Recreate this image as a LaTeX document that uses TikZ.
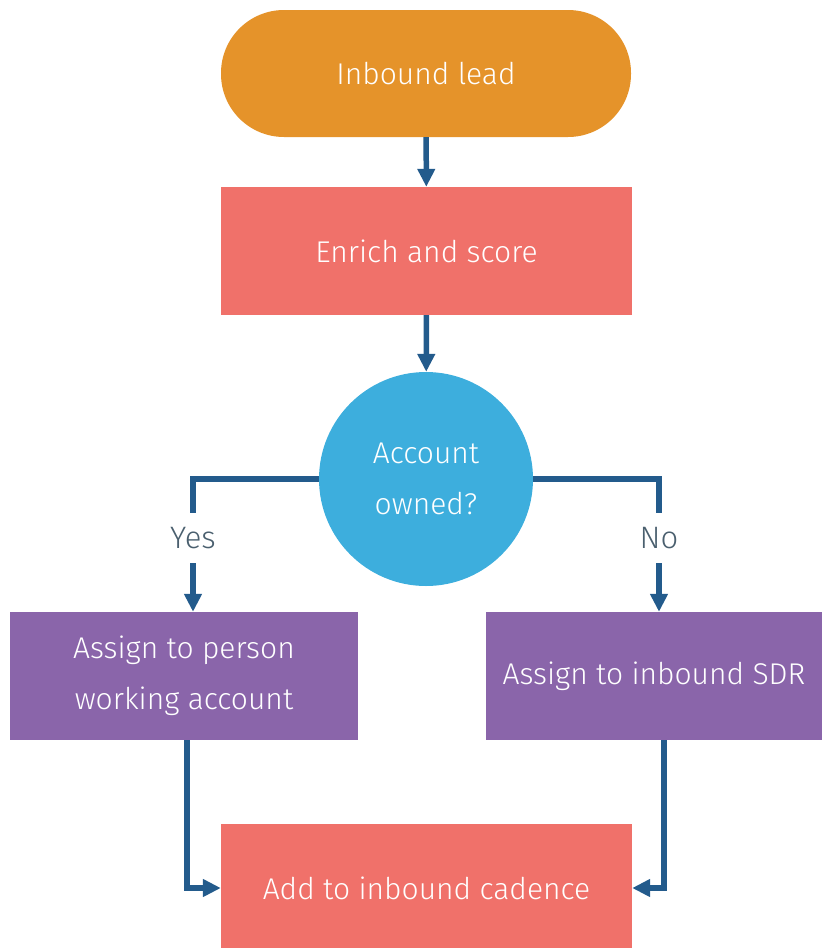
\documentclass[tikz,border=0pt]{standalone}
\usepackage{fontspec}
\setmainfont{Fira Sans Light}[BoldFont=Fira Sans]
\usepackage{tikz}
\usetikzlibrary{arrows.meta}

\definecolor{leadorange}{HTML}{E5932A}
\definecolor{stepred}{HTML}{F0716A}
\definecolor{askblue}{HTML}{3DAEDD}
\definecolor{assignpurple}{HTML}{8A65AA}
\definecolor{flowblue}{HTML}{235B8C}
\definecolor{labelgrey}{HTML}{4A5F6E}

\tikzset{
  box/.style={draw=none, text=white, minimum height=128pt, inner sep=0pt, align=center,
    font=\fontsize{30}{51}\selectfont},
  flow/.style={draw=flowblue, line width=5.5pt, -{Triangle[width=17pt,length=18pt]}},
  plain/.style={draw=flowblue, line width=5.5pt},
  branch/.style={text=labelgrey, minimum height=50pt, inner sep=0pt, font=\fontsize{31}{34}\selectfont}
}

\begin{document}
\begin{tikzpicture}[x=1pt,y=-1pt]
\useasboundingbox (0,0) rectangle (822,948);

\node[box, fill=leadorange, minimum width=410pt, minimum height=127pt, rounded corners=63pt] (lead) at (426,73.5) {Inbound lead};
\node[box, fill=stepred, minimum width=411pt] (enrich) at (426.5,251) {Enrich and score};
\node[box, circle, fill=askblue, minimum size=214pt] (owned) at (426,479) {Account\\owned?};
\node[box, fill=assignpurple, minimum width=348pt] (assignA) at (184,676) {Assign to person\\working account};
\node[box, fill=assignpurple, minimum width=336pt] (assignB) at (654,676) {Assign to inbound SDR};
\node[box, fill=stepred, minimum width=411pt] (cadence) at (426.5,888) {Add to inbound cadence};

\node[branch] (yes) at (193,538) {Yes};
\node[branch] (no) at (659,538) {No};

\draw[flow] (lead) -- (enrich);
\draw[flow] (enrich) -- (owned);

% branches
\draw[plain] (owned.west) -| (yes.north);
\draw[flow] (yes.south) -- (yes.south |- assignA.north);
\draw[plain] (owned.east) -| (no.north);
\draw[flow] (no.south) -- (no.south |- assignB.north);

\draw[flow] ([xshift=3pt]assignA.south) |- (cadence.west);
\draw[flow] ([xshift=10pt]assignB.south) |- (cadence.east);

\end{tikzpicture}
\end{document}
